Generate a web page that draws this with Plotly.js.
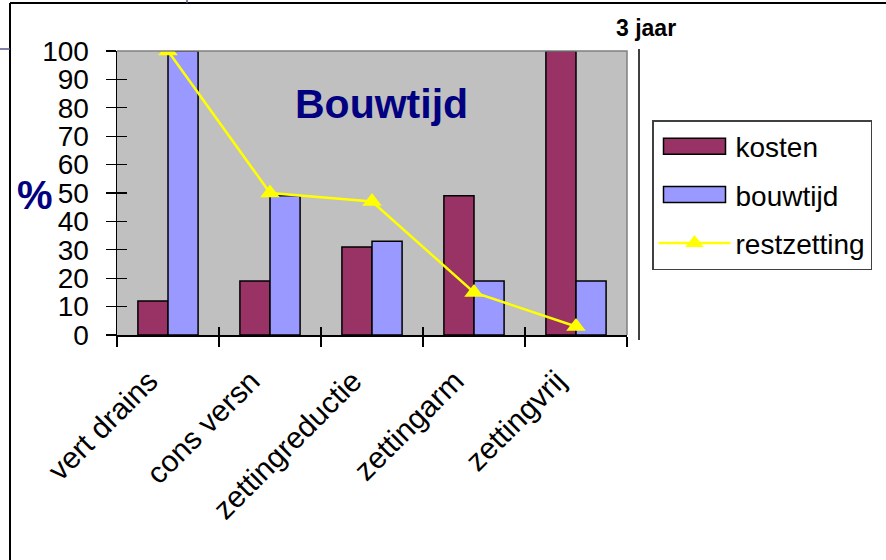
<!DOCTYPE html>
<html>
<head>
<meta charset="utf-8">
<script src="https://cdn.plot.ly/plotly-3.0.1.min.js"></script>
<style>
html,body{margin:0;padding:0;background:#fff;}
#chart{width:886px;height:560px;}
</style>
</head>
<body>
<div id="chart"></div>
<script>
// ---- data ----
const categories = ["vert drains", "cons versn", "zettingreductie", "zettingarm", "zettingvrij"];
const kosten = [12, 19, 31, 49, 100];
const bouwtijd = [100, 49, 33, 19, 19];
const restzetting = [100, 50, 47, 15, 3];
const yTicks = [0, 10, 20, 30, 40, 50, 60, 70, 80, 90, 100];

// ---- layout geometry (pixels) ----
const W = 886, H = 560;
const L = 117, R = 627, T = 51, B = 335;
const px = x => (x - L) / (R - L);
const py = y => (B - y) / (B - T);
const FONT = "Liberation Sans, Arial, sans-serif";

const traces = [
  {type: "bar", name: "kosten", x: categories, y: kosten,
   marker: {color: "#993366", line: {color: "#000", width: 1.5}},
   legendgroup: "a", hoverinfo: "x+y"},
  {type: "bar", name: "bouwtijd", x: categories, y: bouwtijd,
   marker: {color: "#9999FF", line: {color: "#000", width: 1.5}},
   legendgroup: "b", hoverinfo: "x+y"},
  {type: "scatter", mode: "lines+markers", name: "restzetting", x: categories, y: restzetting,
   line: {color: "#FFFF00", width: 2.5},
   marker: {symbol: "triangle-up", size: 17, color: "#FFFF00"},
   legendgroup: "c", hoverinfo: "x+y"},
  {type: "scatter", mode: "none", x: categories, y: categories.map(() => null),
   xaxis: "x2", yaxis: "y2", showlegend: false, hoverinfo: "skip"}
];

const layout = {
  width: W, height: H,
  margin: {l: L, r: W - R, t: T, b: H - B, pad: 0},
  paper_bgcolor: "#fff",
  plot_bgcolor: "#C0C0C0",
  font: {family: FONT, color: "#000", size: 28},
  barmode: "group",
  bargap: 0.41,
  bargroupgap: 0,
  showlegend: true,
  legend: {
    x: px(652), y: py(120), xanchor: "left", yanchor: "top",
    bgcolor: "#fff", bordercolor: "#404040", borderwidth: 1.5,
    font: {family: FONT, size: 28, color: "#000"},
    traceorder: "grouped", tracegroupgap: 9, itemwidth: 72
  },
  xaxis: {
    type: "category", range: [-0.5, 4.5],
    showline: true, linecolor: "#000", linewidth: 1.5,
    ticks: "outside", ticklen: 10, tickwidth: 1.2, tickcolor: "#000",
    tickson: "boundaries", tickangle: -45,
    ticklabelstandoff: 15, ticklabelshift: -19,
    tickfont: {family: FONT, size: 30, color: "#000"},
    showgrid: false, zeroline: false, fixedrange: true
  },
  yaxis: {
    range: [0, 100], tickvals: yTicks, ticktext: yTicks.map(String),
    showline: true, linecolor: "#000", linewidth: 1.5,
    ticks: "outside", ticklen: 10, tickwidth: 1.2, tickcolor: "#000",
    ticklabelstandoff: 11,
    tickfont: {family: FONT, size: 28, color: "#000"},
    showgrid: false, zeroline: false, fixedrange: true
  },
  xaxis2: {
    type: "category", overlaying: "x", anchor: "y2", range: [-0.5, 4.5],
    ticks: "inside", ticklen: 8, tickwidth: 1.2, tickcolor: "#000",
    tickson: "boundaries", showticklabels: false, showline: false,
    showgrid: false, zeroline: false, fixedrange: true
  },
  yaxis2: {
    overlaying: "y", anchor: "x2", range: [0, 100], tickvals: yTicks,
    ticks: "inside", ticklen: 10, tickwidth: 1.2, tickcolor: "#000",
    showticklabels: false, showline: false,
    showgrid: false, zeroline: false, fixedrange: true
  },
  annotations: [
    {text: "<b>Bouwtijd</b>", xref: "paper", yref: "paper", x: px(381), y: py(104),
     xanchor: "center", yanchor: "middle", showarrow: false,
     font: {family: FONT, size: 41, color: "#000080"}},
    {text: "<b>%</b>", xref: "paper", yref: "paper", x: px(35), y: py(195),
     xanchor: "center", yanchor: "middle", showarrow: false,
     font: {family: FONT, size: 40, color: "#000080"}},
    {text: "<b>3 jaar</b>", xref: "paper", yref: "paper", x: px(646), y: py(28),
     xanchor: "center", yanchor: "middle", showarrow: false,
     font: {family: FONT, size: 23, color: "#000"}}
  ],
  shapes: [
    // gray plot-area border top & right
    {type: "path", xref: "paper", yref: "paper", path: "M0,1 L1,1 L1,0",
     line: {color: "#808080", width: 1.5}, layer: "above"},
    // outer frame
    {type: "line", xref: "paper", yref: "paper", x0: px(10), x1: px(886), y0: py(3), y1: py(3),
     line: {color: "#000", width: 2}},
    {type: "line", xref: "paper", yref: "paper", x0: px(10), x1: px(10), y0: py(3), y1: py(560),
     line: {color: "#000", width: 2}},
    // small slide marks
    {type: "line", xref: "paper", yref: "paper", x0: px(0), x1: px(10), y0: py(49), y1: py(49),
     line: {color: "#55558a", width: 1.5}},
    {type: "line", xref: "paper", yref: "paper", x0: px(187), x1: px(187), y0: py(0), y1: py(3),
     line: {color: "#55558a", width: 1.5}},
    // vertical line right of plot
    {type: "line", xref: "paper", yref: "paper", x0: px(639), x1: px(639), y0: py(49), y1: py(340),
     line: {color: "#000", width: 1.5}}
  ]
};

function widenBarSwatches(gd) {
  // Excel-style wide rectangles for the bar entries of the legend
  gd.querySelectorAll(".legend .traces").forEach(g => {
    const pts = g.querySelector(".legendpoints");
    if (!pts) return;
    pts.querySelectorAll("path").forEach(p => {
      const d = p.getAttribute("d") || "";
      if (/^M6,6H-6V-6H6Z$/.test(d.replace(/\s/g, "")) || p.classList.contains("legendbar")) {
        p.setAttribute("d", "M31,8H-31V-8H31Z");
      }
    });
  });
}

const gdEl = document.getElementById("chart");
Plotly.newPlot(gdEl, traces, layout, {displayModeBar: false, staticPlot: true}).then(gd => {
  widenBarSwatches(gd);
  gd.on && gd.on("plotly_afterplot", () => widenBarSwatches(gd));
  setTimeout(() => widenBarSwatches(gd), 50);
});
</script>
</body>
</html>
